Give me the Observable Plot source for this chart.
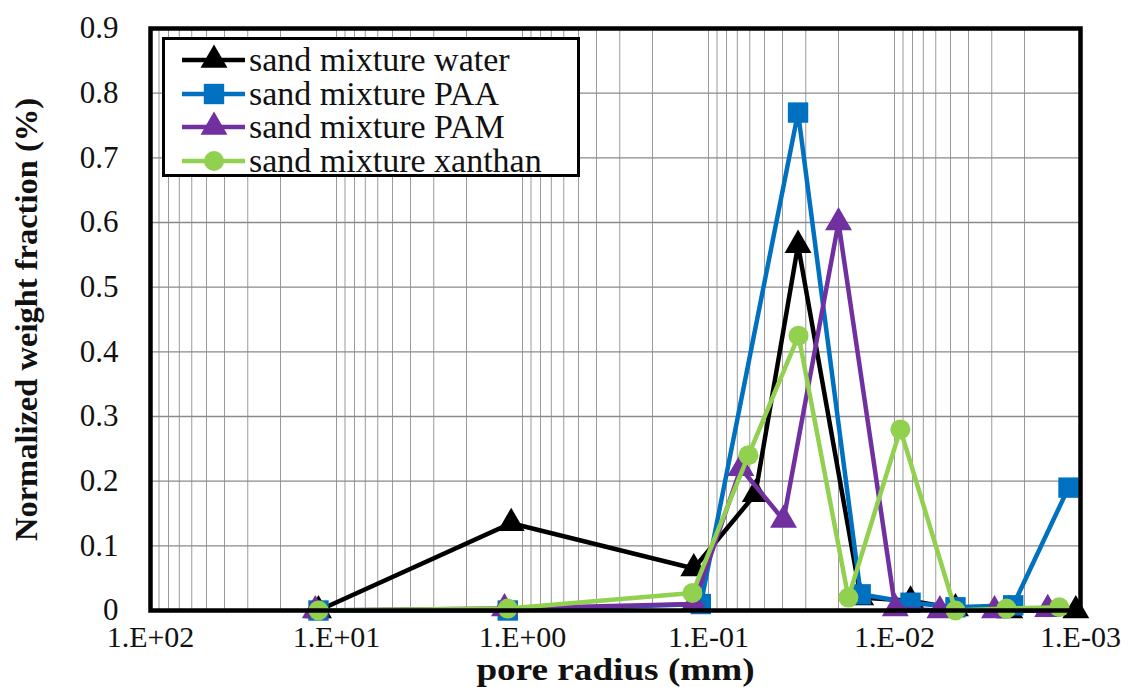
<!DOCTYPE html>
<html>
<head>
<meta charset="utf-8">
<script src="https://cdn.jsdelivr.net/npm/d3@7"></script>
<script src="https://cdn.jsdelivr.net/npm/@observablehq/plot@0.6"></script>
<style>
  html, body { margin: 0; padding: 0; background: #fff; }
  #wrap { position: relative; width: 1131px; height: 687px; font-family: "Liberation Serif", "DejaVu Serif", serif; }
  #legend { position: absolute; left: 162px; top: 37px; width: 412px; height: 134px; background: #fff; border: 3px solid #000; }
  .row { position: absolute; left: 0; height: 34px; display: flex; align-items: center; }
  .row span { font-family: "Liberation Serif", "DejaVu Serif", serif; font-size: 34px; color: #111; white-space: nowrap; margin-left: 4px; line-height: 34px; }
</style>
</head>
<body>
<div id="wrap"></div>
<script>
// ---- data ----
const seriesNames = ["sand mixture water", "sand mixture PAA", "sand mixture PAM", "sand mixture xanthan"];
const seriesColors = ["#000000", "#0070C0", "#7030A0", "#92D050"];
const seriesSymbols = ["triangle", "square", "triangle", "circle"];

const waterX = [12.5, 1.15, 0.12, 0.056, 0.033, 0.0152, 0.0082, 0.0047, 0.0024, 0.00106];
const waterY = [0, 0.135, 0.065, 0.18, 0.565, 0.02, 0.015, 0.003, 0, 0];

const paaX = [12.5, 1.2, 0.11, 0.033, 0.0152, 0.0082, 0.0047, 0.0023, 0.00116];
const paaY = [0, 0, 0.01, 0.77, 0.025, 0.012, 0.005, 0.008, 0.19];

const pamX = [13, 1.25, 0.12, 0.067, 0.0395, 0.020, 0.0099, 0.0057, 0.0029, 0.0015];
const pamY = [0, 0.003, 0.01, 0.22, 0.14, 0.6, 0.003, 0, 0, 0.002];

const xanX = [12.5, 1.2, 0.122, 0.061, 0.0328, 0.0177, 0.0093, 0.0047, 0.0025, 0.0013];
const xanY = [0, 0.003, 0.027, 0.24, 0.425, 0.02, 0.28, 0, 0.003, 0.005];

const xTicks = [100, 10, 1, 0.1, 0.01, 0.001];
const yTicks = [0, 0.1, 0.2, 0.3, 0.4, 0.5, 0.6, 0.7, 0.8, 0.9];

// ---- build table ----
const seriesX = [waterX, paaX, pamX, xanX];
const seriesY = [waterY, paaY, pamY, xanY];
const rows = [];
seriesNames.forEach((name, i) => {
  seriesX[i].forEach((x, j) => rows.push({series: name, x, y: seriesY[i][j], idx: i}));
});

// minor log gridlines
const minor = [];
for (let e = -3; e < 2; e++) for (let m = 1; m < 10; m++) minor.push(m * Math.pow(10, e));
minor.push(100);

const fmtX = d => { const e = Math.round(Math.log10(d)); return "1.E" + (e >= 0 ? "+" : "-") + String(Math.abs(e)).padStart(2, "0"); };
const fmtY = d => d === 0 ? "0" : d.toFixed(1);

const FONT = "'Liberation Serif', 'DejaVu Serif', serif";
const symR = s => s === "square" ? 11.5 : s === "triangle" ? 10 : 10;

const marks = [
  Plot.ruleX(minor, {stroke: "#9a9a9a", strokeWidth: 1}),
  Plot.ruleY(yTicks, {stroke: "#8a8a8a", strokeWidth: 1.3}),
  Plot.axisX(xTicks, {tickSize: 0, tickPadding: 15, tickFormat: fmtX, fontSize: 30, label: null}),
  Plot.axisY(yTicks, {tickSize: 0, tickPadding: 32, tickFormat: fmtY, fontSize: 31, label: null}),
];
seriesNames.forEach((name, i) => {
  const d = rows.filter(r => r.idx === i);
  marks.push(Plot.line(d, {x: "x", y: "y", stroke: seriesColors[i], strokeWidth: 4.5}));
  marks.push(Plot.dot(d, {x: "x", y: "y", symbol: () => seriesSymbols[i], fill: seriesColors[i], stroke: "none", r: symR(seriesSymbols[i])}));
});
marks.push(Plot.frame({stroke: "#000", strokeWidth: 4.5}));
marks.push(Plot.text(["pore radius (mm)"], {frameAnchor: "bottom", dy: 69, fontSize: 31, fontWeight: "bold", fill: "#111", textAnchor: "middle"}));
marks.push(Plot.text(["Normalized weight fraction (%)"], {frameAnchor: "left", dx: -124, rotate: -90, textAnchor: "middle", fontSize: 32.5, fontWeight: "bold", fill: "#111"}));

const chart = Plot.plot({
  width: 1131, height: 687,
  marginLeft: 150, marginRight: 51, marginTop: 28, marginBottom: 77,
  style: {fontFamily: FONT, color: "#111", background: "#fff"},
  x: {type: "log", domain: [100, 0.001], axis: null},
  y: {domain: [0, 0.9], axis: null},
  symbol: {type: "identity"},
  marks
});
const wrap = document.getElementById("wrap");
wrap.appendChild(chart);
chart.querySelectorAll("text").forEach(t => {
  t.style.fontFamily = FONT;
  if (t.textContent === "pore radius (mm)") {
    const tr = t.getAttribute("transform") || "";
    t.setAttribute("transform", tr + " scale(1.2,1)");
  }
});

// ---- legend ----
const legend = document.createElement("div");
legend.id = "legend";
seriesNames.forEach((name, i) => {
  const row = document.createElement("div");
  row.className = "row";
  row.style.top = (3 + i * 33.5) + "px";
  const svgNS = "http://www.w3.org/2000/svg";
  const s = document.createElementNS(svgNS, "svg");
  s.setAttribute("width", 80); s.setAttribute("height", 34);
  const ln = document.createElementNS(svgNS, "line");
  ln.setAttribute("x1", 17); ln.setAttribute("x2", 80); ln.setAttribute("y1", 17); ln.setAttribute("y2", 17);
  ln.setAttribute("stroke", seriesColors[i]); ln.setAttribute("stroke-width", 4.5);
  s.appendChild(ln);
  const p = document.createElementNS(svgNS, "path");
  const sym = seriesSymbols[i] === "square" ? d3.symbolSquare : seriesSymbols[i] === "triangle" ? d3.symbolTriangle : d3.symbolCircle;
  const r = symR(seriesSymbols[i]);
  p.setAttribute("d", d3.symbol(sym, Math.PI * r * r)());
  p.setAttribute("transform", "translate(49,17)");
  p.setAttribute("fill", seriesColors[i]);
  s.appendChild(p);
  row.appendChild(s);
  const t = document.createElement("span");
  t.textContent = name;
  row.appendChild(t);
  legend.appendChild(row);
});
wrap.appendChild(legend);
</script>
</body>
</html>
